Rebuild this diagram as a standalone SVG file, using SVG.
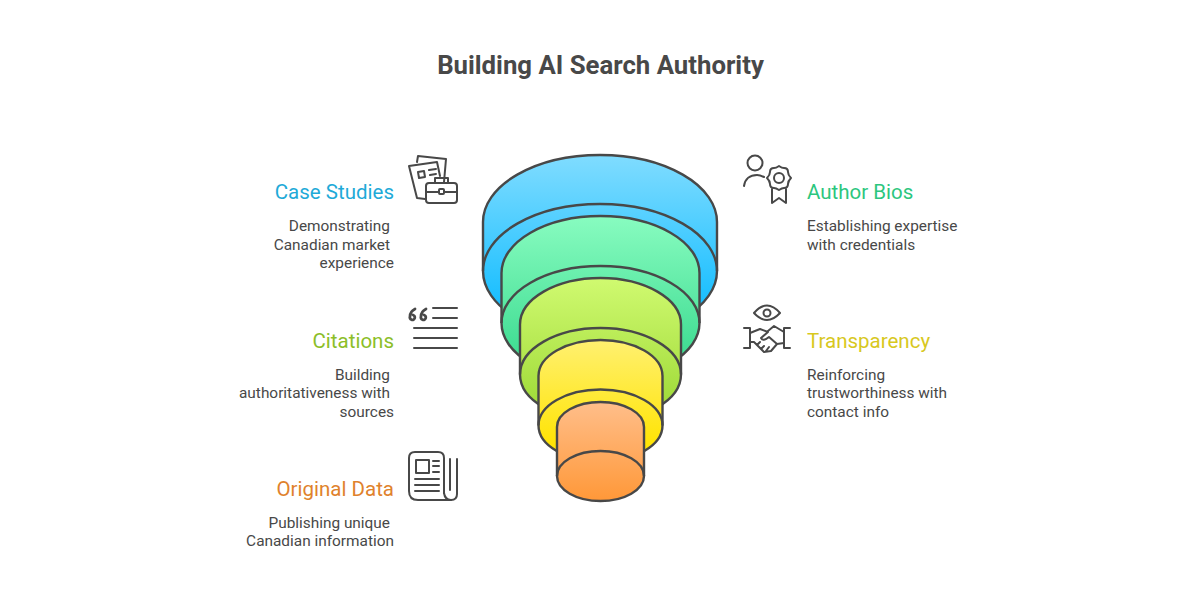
<svg xmlns="http://www.w3.org/2000/svg" width="1200" height="600" viewBox="0 0 1200 600">
<style>
text{font-family:Roboto,"Liberation Sans",sans-serif}
.t{font-size:25.75px;font-weight:700;fill:#484848}
.h{font-size:20.5px}
.d{font-size:15.4px;fill:#484848}
.e{text-anchor:end}
.c{stroke:#484848;stroke-width:2.4;stroke-linejoin:round}
.i{fill:none;stroke:#484848;stroke-width:2;stroke-linecap:round;stroke-linejoin:round}
.q{stroke-width:2.8}
</style>
<defs>
<linearGradient id="g1" x1="0" y1="0" x2="0" y2="1"><stop offset="0" stop-color="#80dcff"/><stop offset="0.85" stop-color="#14bdff"/></linearGradient>
<linearGradient id="g2" x1="0" y1="0" x2="0" y2="1"><stop offset="0" stop-color="#88fcc0"/><stop offset="0.85" stop-color="#3fdc92"/></linearGradient>
<linearGradient id="g3" x1="0" y1="0" x2="0" y2="1"><stop offset="0" stop-color="#d0fa70"/><stop offset="0.85" stop-color="#a2dc3c"/></linearGradient>
<linearGradient id="g4" x1="0" y1="0" x2="0" y2="1"><stop offset="0" stop-color="#fff070"/><stop offset="0.85" stop-color="#ffe406"/></linearGradient>
<linearGradient id="g5" x1="0" y1="0" x2="0" y2="1"><stop offset="0" stop-color="#ffbe8a"/><stop offset="1" stop-color="#ff9838"/></linearGradient>
</defs>
<text class="t" x="600.500" y="74" text-anchor="middle">Building AI Search Authority</text>
<g id="funnel">
<g id="layer-blue"><path class="c" fill="url(#g1)" d="M483 222A117 67 0 0 1 717 222V271A117 67 0 0 1 483 271Z"/><path class="c" fill="none" d="M483 271A117 67 0 0 1 717 271"/></g>
<g id="layer-green"><path class="c" fill="url(#g2)" d="M501.500 273A99 57 0 0 1 699.500 273V323A99 57 0 0 1 501.500 323Z"/><path class="c" fill="none" d="M501.500 323A99 57 0 0 1 699.500 323"/></g>
<g id="layer-lime"><path class="c" fill="url(#g3)" d="M520 324.500A80.500 46.500 0 0 1 681 324.500V374.500A80.500 46.500 0 0 1 520 374.500Z"/><path class="c" fill="none" d="M520 374.500A80.500 46.500 0 0 1 681 374.500"/></g>
<g id="layer-yellow"><path class="c" fill="url(#g4)" d="M538.500 376A62 36 0 0 1 662.500 376V425.500A62 36 0 0 1 538.500 425.500Z"/><path class="c" fill="none" d="M538.500 425.500A62 36 0 0 1 662.500 425.500"/></g>
<g id="layer-orange"><path class="c" fill="url(#g5)" d="M557 427A43.500 25 0 0 1 644 427V476A43.500 25 0 0 1 557 476Z"/><path class="c" fill="none" d="M557 476A43.500 25 0 0 1 644 476"/></g>
</g>
<g id="case-studies">
<text class="h e" x="394" y="198.500" fill="#1eaad8">Case Studies</text>
<text class="d e" x="390" y="231">Demonstrating</text>
<text class="d e" x="390" y="250">Canadian market</text>
<text class="d e" x="394" y="268">experience</text>
<path class="i" d="M417 162L418 156L446 159L444 182M425 199L417 198L409 166L437 162L440 176"/>
<path class="i" d="M418 172L424 171L425 177L419 178ZM429 170L436 169M430 175L436 174"/>
<rect class="i" x="426" y="183" width="31" height="20" rx="3"/>
<path class="i" d="M435 182V178H448V182M426 192H438M445 192H457"/><rect class="i" x="439" y="189" width="5" height="5" rx="1"/>
</g>
<g id="citations">
<text class="h e" x="394" y="347.500" fill="#8cbe28">Citations</text>
<text class="d e" x="390" y="380">Building</text>
<text class="d e" x="390" y="398">authoritativeness with</text>
<text class="d e" x="394" y="417">sources</text>
<path class="i" d="M433 308H457M433 318H457M414 328H457M414 338H457M414 348H457"/>
<path class="i q" d="M415 309C411 311 410 314 410 316.500A2.500 2.500 0 1 0 413 315M426 309C422 311 421 314 421 316.500A2.500 2.500 0 1 0 424 315"/>
</g>
<g id="original-data">
<text class="h e" x="394" y="495.500" fill="#e0822c">Original Data</text>
<text class="d e" x="390" y="528">Publishing unique</text>
<text class="d e" x="394" y="546">Canadian information</text>
<path class="i" d="M444 493V458Q444 452 438 452H415Q409 452 409 458V491Q409 500 418 500H451Q457 500 457 494V459M450 459V490"/>
<path class="i" d="M444 493Q445 500 451 500"/>
<rect class="i" x="416" y="460" width="13" height="13"/>
<path class="i" d="M433 461H439M433 466H439M433 472H439M415 479H439M415 485H439M415 491H439"/>
</g>
<g id="author-bios">
<text class="h" x="807" y="198.500" fill="#2cc67e">Author Bios</text>
<text class="d" x="807" y="231">Establishing expertise</text>
<text class="d" x="807" y="250">with credentials</text>
<circle class="i" cx="755" cy="163" r="7.500"/>
<path class="i" d="M744 186C745 179 750 175 757 175C760 175 762 176 764 177"/>
<path class="i" d="M779 166Q782 168 784 168Q788 168 788 172Q788 175 791 178Q788 181 788 184Q788 188 784 188Q782 188 779 190Q776 188 774 188Q770 188 770 184Q770 181 767 178Q770 175 770 172Q770 168 774 168Q776 168 779 166Z"/>
<circle class="i" cx="779" cy="178" r="5"/>
<path class="i" d="M772 189V203L779 198L786 203V189"/>
</g>
<g id="transparency">
<text class="h" x="807" y="347.500" fill="#d8c81e">Transparency</text>
<text class="d" x="807" y="380">Reinforcing</text>
<text class="d" x="807" y="398">trustworthiness with</text>
<text class="d" x="807" y="417">contact info</text>
<path class="i" d="M754 313Q767 298 780 313Q767 327 754 313Z"/><circle class="i" cx="767" cy="313" r="3.500"/>
<path class="i" d="M744 328H750V348H744M790 328H784V348H790"/>
<path class="i" d="M750 333L760 329L768 332L761 338Q763 342 769 337L777 344M750 342L754 342L764 352L771 351L777 344L784 343M784 332L774 326L768 331M757 345L760 342M761 349L764 346M766 351L769 347"/>
</g>
</svg>
